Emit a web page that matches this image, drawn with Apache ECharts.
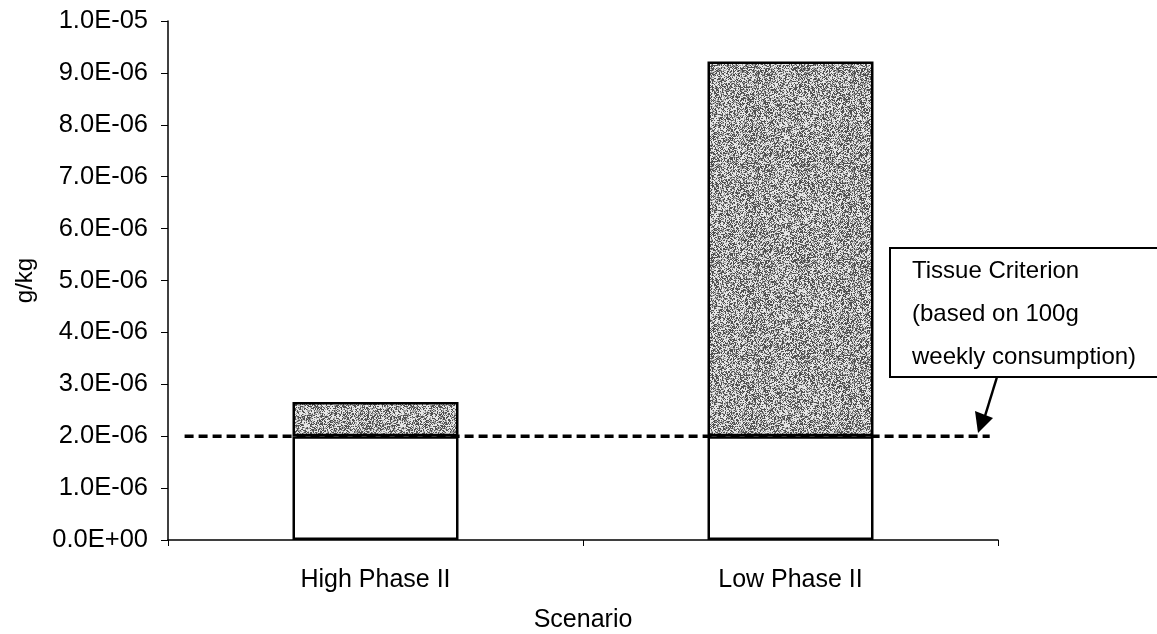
<!DOCTYPE html>
<html>
<head>
<meta charset="utf-8">
<script src="https://cdn.jsdelivr.net/npm/echarts@6/dist/echarts.min.js"></script>
<style>
  html, body { margin: 0; padding: 0; background: #fff; }
  #chart { width: 1157px; height: 634px; }
</style>
</head>
<body>
<div id="chart"></div>
<script>
"use strict";

// 数据
var scenarios = ['High Phase II', 'Low Phase II'];
var totals = [2.66e-6, 9.22e-6];        // bar tops (g/kg)
var criterion = 2.0e-6;                 // tissue criterion
var criterionSpan = [-0.46, 1.48];      // extent of the dashed line, in category units
var yTickLabels = ['0.0E+00', '1.0E-06', '2.0E-06', '3.0E-06', '4.0E-06', '5.0E-06',
                   '6.0E-06', '7.0E-06', '8.0E-06', '9.0E-06', '1.0E-05'];
var noteLines = ['Tissue Criterion', '(based on 100g', 'weekly consumption)'];

var FONT = '"Liberation Sans", Arial, sans-serif';

// below / above the criterion
var belowPart = totals.map(function (v) { return Math.min(v, criterion); });
var abovePart = totals.map(function (v) { return Math.max(v - criterion, 0); });

// speckled grey fill (halftone look)
function makeSpeckle() {
    var c = document.createElement('canvas');
    c.width = 96; c.height = 96;
    var ctx = c.getContext('2d');
    var img = ctx.createImageData(96, 96);
    var seed = 12345;
    for (var i = 0; i < 96 * 96; i++) {
        seed = (seed * 1103515245 + 12345) & 0x7fffffff;
        var r = seed / 0x7fffffff;
        var g = r < 0.36 ? 80 : (r < 0.58 ? 160 : 230);
        img.data[i * 4] = g; img.data[i * 4 + 1] = g; img.data[i * 4 + 2] = g; img.data[i * 4 + 3] = 255;
    }
    ctx.putImageData(img, 0, 0);
    return c;
}

var myChart = echarts.init(document.getElementById('chart'), null, {renderer: 'canvas'});

var option = {
    backgroundColor: '#fff',
    animation: false,
    textStyle: {fontFamily: FONT, color: '#000'},
    grid: {left: 168, right: 159, top: 21, bottom: 94, containLabel: false, outerBoundsMode: 'none'},
    xAxis: [{
        type: 'category',
        data: scenarios,
        name: 'Scenario',
        nameLocation: 'middle',
        nameGap: 68,
        nameTextStyle: {fontSize: 25, color: '#000', fontFamily: FONT},
        axisLine: {lineStyle: {color: '#000', width: 1.5}},
        axisTick: {show: true, length: 6, lineStyle: {color: '#000'}},
        axisLabel: {fontSize: 25, color: '#000', margin: 28, fontFamily: FONT}
    }, {
        type: 'value',
        min: -0.5,
        max: 1.5,
        show: false
    }],
    yAxis: {
        type: 'value',
        min: 0,
        max: 1e-5,
        interval: 1e-6,
        name: 'g/kg',
        nameLocation: 'middle',
        nameRotate: 90,
        nameGap: 131,
        nameTextStyle: {fontSize: 24, color: '#000', fontFamily: FONT},
        axisLine: {show: true, onZero: false, lineStyle: {color: '#000', width: 1.5}},
        axisTick: {show: true, length: 7, lineStyle: {color: '#000'}},
        splitLine: {show: false},
        axisLabel: {
            fontSize: 25.5, color: '#000', margin: 20, fontFamily: FONT,
            formatter: function (value, index) {
                return yTickLabels[index];
            }
        }
    },
    series: [
        {
            name: 'below',
            type: 'bar',
            stack: 'total',
            barWidth: '40%',
            data: belowPart,
            itemStyle: {color: '#fff', borderColor: '#000', borderWidth: 2.5}
        },
        {
            name: 'above',
            type: 'bar',
            stack: 'total',
            barWidth: '40%',
            data: abovePart,
            itemStyle: {
                color: {image: makeSpeckle(), repeat: 'repeat'},
                borderColor: '#000',
                borderWidth: 2.5
            }
        },
        {
            name: 'criterion',
            type: 'line',
            xAxisIndex: 1,
            data: [[criterionSpan[0], criterion], [criterionSpan[1], criterion]],
            symbol: 'none',
            z: 5,
            lineStyle: {color: '#000', width: 3.5, type: [9, 5]}
        }
    ],
    graphic: [
        {
            type: 'rect',
            shape: {x: 890, y: 248, width: 280, height: 129},
            style: {fill: '#fff', stroke: '#000', lineWidth: 2},
            z: 10
        },
        {
            type: 'text',
            x: 912, y: 271,
            style: {text: noteLines[0], font: '24px ' + FONT, fill: '#000', textVerticalAlign: 'middle'},
            z: 11
        },
        {
            type: 'text',
            x: 912, y: 314,
            style: {text: noteLines[1], font: '24px ' + FONT, fill: '#000', textVerticalAlign: 'middle'},
            z: 11
        },
        {
            type: 'text',
            x: 912, y: 357,
            style: {text: noteLines[2], font: '24px ' + FONT, fill: '#000', textVerticalAlign: 'middle'},
            z: 11
        },
        {
            type: 'line',
            shape: {x1: 997, y1: 377, x2: 985, y2: 416},
            style: {stroke: '#000', lineWidth: 2.5},
            z: 11
        },
        {
            type: 'polygon',
            shape: {points: [[975, 411], [993, 418], [978, 433]]},
            style: {fill: '#000'},
            z: 11
        }
    ]
};

myChart.setOption(option);
</script>
</body>
</html>
